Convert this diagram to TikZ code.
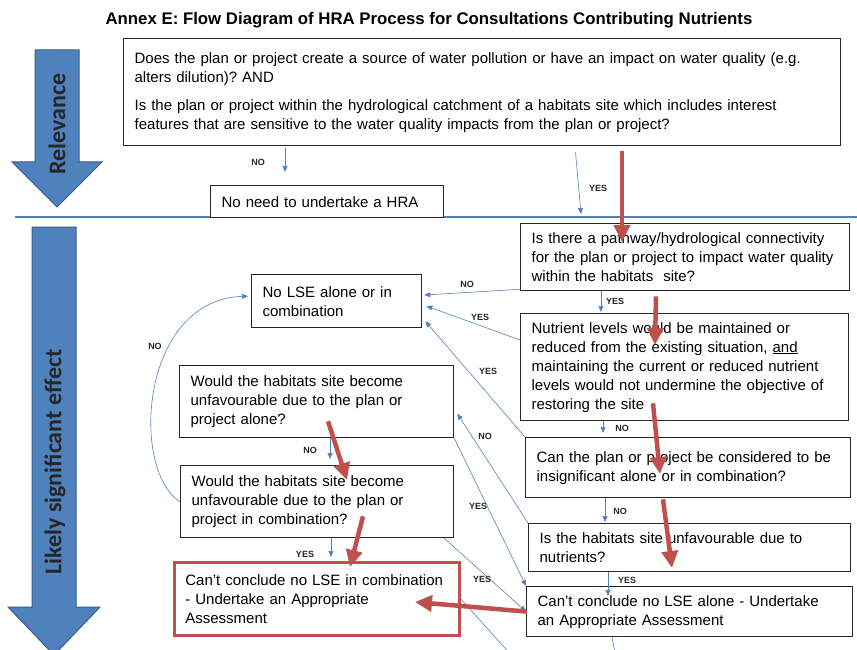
\documentclass[tikz,border=0pt]{standalone}
\usepackage{fontspec}
\setmainfont{Liberation Sans}
\newfontfamily\calfont{Carlito}
\usepackage{xcolor}
\usetikzlibrary{arrows.meta, positioning}
\definecolor{linkblue}{RGB}{79,129,189}
\definecolor{bandblue}{RGB}{79,129,189}
\definecolor{banddark}{RGB}{56,93,138}
\definecolor{markred}{RGB}{192,80,77}
\frenchspacing

\begin{document}
\begin{tikzpicture}[x=1pt, y=-1pt,
    box/.style={rectangle, draw=black!85, line width=1.3pt, fill=white,
                anchor=north west, align=left, inner xsep=11pt, inner ysep=2pt,
                font=\fontsize{15}{19}\selectfont},
    aabox/.style={box, draw=markred, line width=2.8pt},
    band/.style={fill=bandblue, draw=banddark, line width=1pt},
    bandtext/.style={rotate=90, font=\calfont\bfseries\fontsize{24}{28}\selectfont, text=black!85},
    lab/.style={font=\bfseries\fontsize{9}{10}\selectfont, text=black!85, inner sep=1pt},
    conn/.style={-{Triangle[length=6pt, width=5pt]}, draw=linkblue, line width=0.6pt},
    redarr/.style={-{Triangle[length=17pt, width=16pt]}, draw=markred, line width=4.5pt}
]
\useasboundingbox (0,0) rectangle (857,650);

\node[font=\bfseries\fontsize{16.8}{20}\selectfont] (title) at (429,20)
  {Annex E: Flow Diagram of HRA Process for Consultations Contributing Nutrients};

% side bands
\filldraw[band] (35,50) -- (79,50) -- (79,162) -- (102,162) -- (57,207) -- (12,162) -- (35,162) -- cycle;
\node[bandtext] (relev) at (57,124) {Relevance};
\filldraw[band] (32,227) -- (76,227) -- (76,607) -- (100,607) -- (54,655) -- (8,607) -- (32,607) -- cycle;
\node[bandtext] (likely) at (55,462) {Likely significant effect};

\draw[linkblue, line width=1.2pt] (15,217) -- (857,217);

% boxes
\node[box, text width=695pt, minimum height=107pt] (q1) at (123,38)
  {Does the plan or project create a source of water pollution or have an impact on water quality (e.g.\\
   alters dilution)? AND\\[9pt]
   Is the plan or project within the hydrological catchment of a habitats site which includes interest\\
   features that are sensitive to the water quality impacts from the plan or project?};
\node[box, text width=211pt, minimum height=32pt] (nohra) at (210,185) {No need to undertake a HRA};
\node[box, text width=307pt, minimum height=67pt] (q2) at (520,223)
  {Is there a pathway/hydrological connectivity\\ for the plan or project to impact water quality\\ within the habitats\ \ site?};
\node[box, text width=148pt, minimum height=53pt] (nolse) at (251,274) {No LSE alone or in\\ combination};
\node[box, text width=306pt, minimum height=107pt] (q3) at (520,313)
  {Nutrient levels would be maintained or\\ reduced from the existing situation, \underline{and}\\
   maintaining the current or reduced nutrient\\ levels would not undermine the objective of\\ restoring the site};
\node[box, text width=303pt, minimum height=60pt] (q4) at (525,437)
  {Can the plan or project be considered to be\\ insignificant alone or in combination?};
\node[box, text width=300pt, minimum height=48pt] (q5) at (528,523)
  {Is the habitats site unfavourable due to\\ nutrients?};
\node[box, text width=304pt, minimum height=50pt] (aa1) at (526,586)
  {Can't conclude no LSE alone - Undertake\\ an Appropriate Assessment};
\node[box, text width=252pt, minimum height=72pt] (q6) at (179,365)
  {Would the habitats site become\\ unfavourable due to the plan or\\ project alone?};
\node[box, text width=251pt, minimum height=72pt] (q7) at (180,465)
  {Would the habitats site become\\ unfavourable due to the plan or\\ project in combination?};
\node[aabox, text width=263pt, minimum height=73pt] (aa2) at (173,561)
  {Can't conclude no LSE in combination\\ - Undertake an Appropriate\\ Assessment};

\coordinate (yesEnd) at (581,214);
\coordinate (offA) at (512,656);
\coordinate (offB) at (616,658);

% thin connectors
\draw[conn, shorten <=2pt] ([xshift=162pt]q1.south west) -- ([xshift=75pt, yshift=13pt]nohra.north west);
\draw[conn, shorten <=6pt] ([xshift=452pt]q1.south west) -- (yesEnd);
\draw[conn] ([xshift=81pt]q2.south west) -- ([xshift=81pt, yshift=1pt]q3.north west);
\draw[conn] ([xshift=83pt]q3.south west) -- ([xshift=78pt, yshift=4pt]q4.north west);
\draw[conn] ([xshift=80pt]q4.south west) -- ([xshift=77pt, yshift=1pt]q5.north west);
\draw[conn] ([xshift=80pt]q5.south west) -- ([xshift=82pt, yshift=-10pt]aa1.north west);
\draw[conn] ([xshift=151pt]q6.south west) -- ([xshift=150pt, yshift=6pt]q7.north west);
\draw[conn] ([xshift=151pt]q7.south west) -- ([xshift=158pt, yshift=4pt]aa2.north west);
\draw[conn] ([yshift=2pt]q2.south west) -- ([xshift=2pt, yshift=-21pt]nolse.north east);
\draw[conn] ([yshift=-27pt]q3.north west) -- ([xshift=4pt, yshift=-32pt]nolse.north east);
\draw[conn] (q4.north west) -- ([xshift=3pt, yshift=7pt]nolse.south east);
\draw[conn] (q7.west) .. controls (130,470) and (140,300) .. ([xshift=-3pt, yshift=5pt]nolse.west);
\draw[conn] (q5.north west) -- ([xshift=3pt, yshift=-12pt]q6.east);
\draw[conn] (q6.south east) -- (aa1.north west);
\draw[conn] ([xshift=-10pt]q7.south east) -- (aa1.west);
\draw[conn] (aa2.east) -- (offA);
\draw[conn] ([xshift=86pt]aa1.south west) -- (offB);

% labels
\node[lab] (lno1) at (258,162) {NO};
\node[lab] (lyes1) at (598,188) {YES};
\node[lab] (lno2) at (467,284) {NO};
\node[lab] (lyes2) at (480,317) {YES};
\node[lab] (lyes3) at (488,371) {YES};
\node[lab] (lno3) at (155,346) {NO};
\node[lab] (lyes4) at (615,301) {YES};
\node[lab] (lno4) at (622,428) {NO};
\node[lab] (lno5) at (485,436) {NO};
\node[lab] (lno6) at (620,511) {NO};
\node[lab] (lyes5) at (627,580) {YES};
\node[lab] (lno7) at (310,450) {NO};
\node[lab] (lyes6) at (305,554) {YES};
\node[lab] (lyes7) at (478,506) {YES};
\node[lab] (lyes8) at (482,579) {YES};

% red arrows
\draw[redarr] ([xshift=499pt, yshift=-5pt]q1.south west) -- ([xshift=102pt, yshift=-19pt]q2.north west);
\draw[redarr] ([xshift=136pt, yshift=-5pt]q2.south west) -- ([xshift=135pt, yshift=-32pt]q3.north west);
\draw[redarr] ([xshift=133pt, yshift=18pt]q3.south west) -- ([xshift=135pt, yshift=-37pt]q4.north west);
\draw[redarr] ([xshift=138pt, yshift=-1pt]q4.south west) -- ([xshift=144pt, yshift=-45pt]q5.north west);
\draw[redarr] ([xshift=1pt]aa1.west) -- ([xshift=242pt, yshift=-41pt]aa2.north west);
\draw[redarr] ([xshift=149pt, yshift=17pt]q6.south west) -- ([xshift=167pt, yshift=-15pt]q7.north west);
\draw[redarr] ([xshift=183pt, yshift=22pt]q7.south west) -- ([xshift=177pt, yshift=-6pt]aa2.north west);
\end{tikzpicture}
\end{document}
